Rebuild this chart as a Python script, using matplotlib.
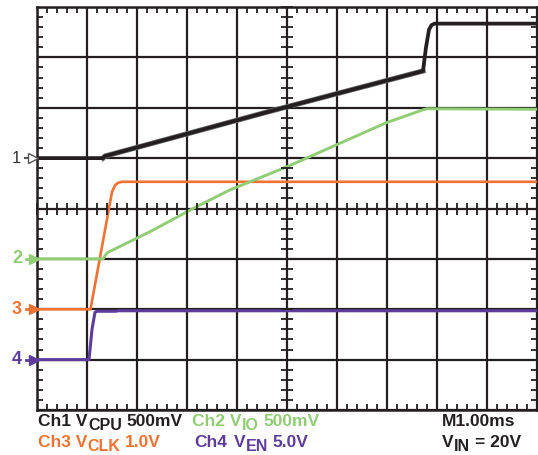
import matplotlib
matplotlib.use("Agg")
import matplotlib.pyplot as plt
from matplotlib.ticker import MultipleLocator, NullFormatter
from matplotlib.transforms import IdentityTransform

# ---- data (divisions: x 0..10, y 0..8) ----
ch1_x = [0, 1.32, 1.36, 4.66, 7.72, 7.78, 7.84, 7.89, 7.95, 10]
ch1_y = [5.0, 5.0, 5.04, 5.93, 6.73, 7.20, 7.55, 7.64, 7.67, 7.67]
ch2_x = [0, 1.32, 1.40, 2.32, 3.12, 3.86, 4.98, 5.98, 6.98, 7.72, 7.80, 10]
ch2_y = [3.0, 3.0, 3.12, 3.57, 4.0, 4.37, 4.82, 5.26, 5.70, 5.96, 5.98, 5.97]
ch3_x = [0, 1.07, 1.50, 1.56, 1.62, 1.70, 10]
ch3_y = [2.0, 2.0, 4.33, 4.46, 4.51, 4.53, 4.53]
ch4_x = [0, 1.04, 1.10, 1.16, 1.20, 1.58, 1.62, 10]
ch4_y = [1.0, 1.0, 1.6, 1.94, 1.96, 1.96, 1.97, 1.97]

channel_labels = ["1", "2", "3", "4"]
channel_levels = [5.0, 3.0, 2.0, 1.0]

BLACK = "#231f20"
GREEN = "#90cd74"
ORANGE = "#f07232"
PURPLE = "#5e3c9c"
channel_colors = [BLACK, GREEN, ORANGE, PURPLE]

W, H = 538, 455
fig = plt.figure(figsize=(W / 100, H / 100), dpi=100)
L, R, T, B = 37, 537, 7, 410
pos = [L / W, (H - B) / H, (R - L) / W, (B - T) / H]
ax = fig.add_axes(pos)
ax.set_xlim(0, 10)
ax.set_ylim(0, 8)
ax.set_xticks(range(11))
ax.set_yticks(range(9))
ax.xaxis.set_minor_locator(MultipleLocator(0.2))
ax.yaxis.set_minor_locator(MultipleLocator(0.2))
ax.xaxis.set_major_formatter(NullFormatter())
ax.yaxis.set_major_formatter(NullFormatter())
ax.tick_params(which="major", length=0)
ax.tick_params(which="minor", direction="in", length=4, width=1.3, color=BLACK,
               top=True, right=True, bottom=True, left=True)
ax.grid(True, which="major", color=BLACK, lw=1.6)
for s in ax.spines.values():
    s.set_color(BLACK)
    s.set_linewidth(1.8)
ax.set_axisbelow(True)

# center-line ticks
ax2 = fig.add_axes(pos, frameon=True)
ax2.patch.set_alpha(0)
ax2.set_xlim(0, 10)
ax2.set_ylim(0, 8)
for k in ["top", "right"]:
    ax2.spines[k].set_visible(False)
ax2.spines["left"].set_position(("data", 5))
ax2.spines["bottom"].set_position(("data", 4))
ax2.spines["left"].set_visible(False)
ax2.spines["bottom"].set_visible(False)
ax2.xaxis.set_minor_locator(MultipleLocator(0.2))
ax2.yaxis.set_minor_locator(MultipleLocator(0.2))
ax2.set_xticks([])
ax2.set_yticks([])
ax2.tick_params(which="minor", direction="inout", length=8, width=1.3, color=BLACK)
ax2.xaxis.set_minor_formatter(NullFormatter())
ax2.yaxis.set_minor_formatter(NullFormatter())

# traces
ax.plot(ch3_x, ch3_y, color=ORANGE, lw=1.9, zorder=3, solid_joinstyle="round")
ax.plot(ch2_x, ch2_y, color=GREEN, lw=2.1, zorder=4, solid_joinstyle="round")
ax.plot(ch4_x, ch4_y, color=PURPLE, lw=2.2, zorder=5, solid_joinstyle="round")
ax.plot(ch1_x[1:5], ch1_y[1:5], color="#6e6e6e", lw=3.8, zorder=6)
ax.plot(ch1_x, ch1_y, color=BLACK, lw=2.7, zorder=7, solid_joinstyle="round")

# left channel markers
for lab, lvl, col in zip(channel_labels, channel_levels, channel_colors):
    if lab == "1":
        ax.plot([-0.24, -0.12], [lvl, lvl], color="#555555", lw=1.5, clip_on=False, zorder=8)
        ax.plot([-0.08], [lvl], marker=">", ms=7, mfc="white", mec="#555555", mew=1.0,
                clip_on=False, zorder=9)
        ax.text(-0.42, lvl, lab, color="#333333", fontsize=12, ha="center", va="center",
                family="Liberation Sans")
    else:
        ax.plot([-0.22, -0.1], [lvl, lvl], color=col, lw=2.0, clip_on=False, zorder=8)
        ax.plot([-0.06], [lvl], marker=">", ms=7.5, mfc=col, mec=col, clip_on=False, zorder=9)
        ax.text(-0.40, lvl, lab, color=col, fontsize=13, ha="center", va="center",
                family="Liberation Sans", weight="bold")

# bottom annotations with manual subscripts
renderer = fig.canvas.get_renderer()
FS = 12.5
def rich(x, ybase, parts, color):
    for txt, kind in parts:
        if kind == "gap":
            x += txt
            continue
        sub = kind == "sub"
        t = fig.text(x, H - ybase - (4 if sub else 0), txt, transform=IdentityTransform(),
                     fontsize=FS * (0.92 if sub else 1.0), color=color, weight="bold",
                     family="Liberation Sans", va="baseline", ha="left")
        x += t.get_window_extent(renderer).width + 0.5

SP = 4
rich(38, 426, [("Ch1 V", "n"), ("CPU", "sub"), (SP, "gap"), ("500mV", "n")], BLACK)
rich(192, 426, [("Ch2 V", "n"), ("IO", "sub"), (SP, "gap"), ("500mV", "n")], GREEN)
rich(442, 426, [("M1.00ms", "n")], BLACK)
rich(38, 447, [("Ch3 V", "n"), ("CLK", "sub"), (SP, "gap"), ("1.0V", "n")], ORANGE)
rich(194, 447, [("Ch4", "n"), (6, "gap"), ("V", "n"), ("EN", "sub"), (SP, "gap"), ("5.0V", "n")], PURPLE)
rich(442, 447, [("V", "n"), ("IN", "sub"), (SP, "gap"), ("= 20V", "n")], BLACK)

fig.savefig("out.png", dpi=100)
